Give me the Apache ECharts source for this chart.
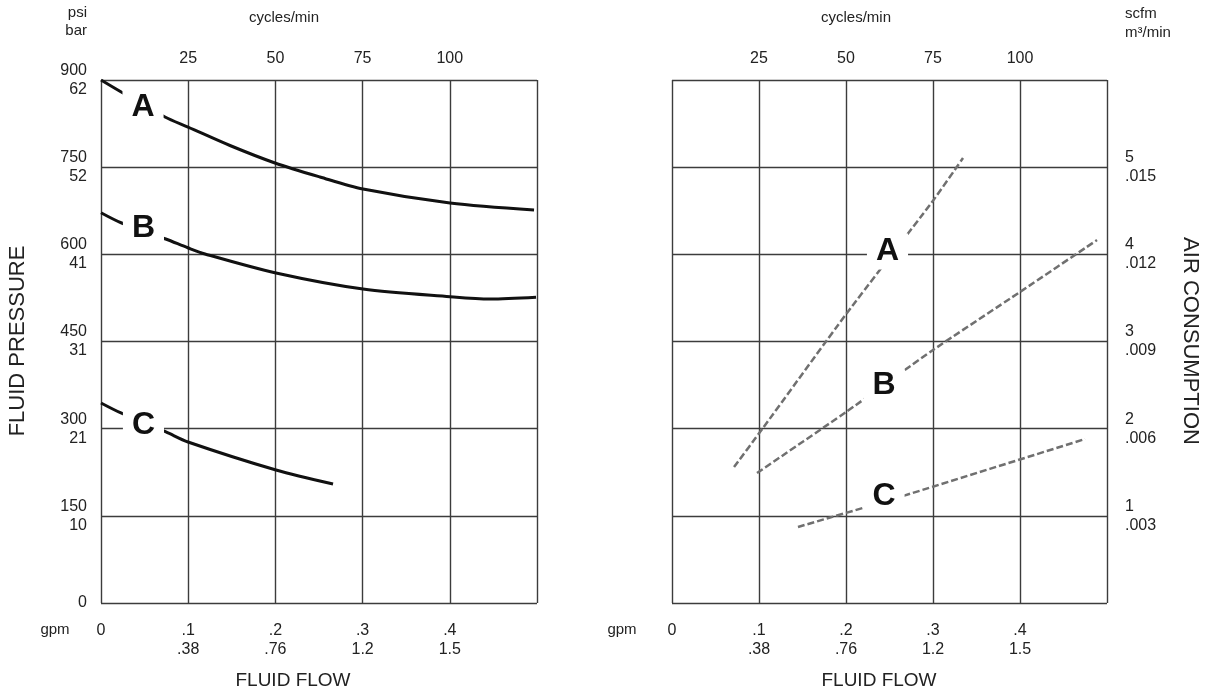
<!DOCTYPE html>
<html>
<head>
<meta charset="utf-8">
<script src="https://cdn.jsdelivr.net/npm/echarts@6/dist/echarts.min.js"></script>
<style>
html,body{margin:0;padding:0;background:#fff;}
#c{width:1207px;height:698px;}
</style>
</head>
<body>
<div id="c"></div>
<script>
// ---- tick labels ----
const flowLabels = ['0', '.1\n.38', '.2\n.76', '.3\n1.2', '.4\n1.5', ''];
const cycleLabels = ['', '25', '50', '75', '100', ''];
const pressureLabels = ['0', '150\n10', '300\n21', '450\n31', '600\n41', '750\n52', '900\n62'];
const airLabels = ['', '1\n.003', '2\n.006', '3\n.009', '4\n.012', '5\n.015', ''];

// ---- left panel: fluid pressure (psi) vs fluid flow (gpm) ----
const pressureA = [[0,900],[0.0252,877.6],[0.0734,836.3],[0.0998,819.1],[0.1479,787.3],[0.1995,757.2],[0.2511,733.1],[0.3005,712.4],[0.4002,688.3],[0.4966,676.3]];
const pressureB = [[0,671.6],[0.0237,653.9],[0.0742,626.4],[0.1001,610.9],[0.1193,600.6],[0.2007,567.9],[0.3005,540.3],[0.4002,527.1],[0.4461,523.1],[0.4989,526.1]];
const pressureC = [[0,344.2],[0.0229,327.0],[0.0745,294.3],[0.0998,277.1],[0.2007,228.9],[0.2661,204.8]];
const pressureTags = [[0.0482,853.5,'A'],[0.0487,644.4,'B'],[0.0487,306.3,'C']];

// ---- right panel: air consumption (scfm) vs fluid flow (gpm) ----
const airA = [[0.0713,1.560],[0.1046,2.008],[0.2011,3.327],[0.2989,4.600],[0.3345,5.105]];
const airB = [[0.0977,1.491],[0.2,2.191],[0.3,2.902],[0.4,3.568],[0.4885,4.164]];
const airC = [[0.1448,0.872],[0.2655,1.228],[0.4747,1.881]];
const airTags = [[0.2477,4.032,'A'],[0.2437,2.501,'B'],[0.2437,1.228,'C']];

const FONT = '"Liberation Sans", Arial, Helvetica, sans-serif';
const TXT = '#222';
const GRIDC = '#3c3c3c';

const chart = echarts.init(document.getElementById('c'), null, {renderer: 'canvas'});

function bottomAxis(gi) {
  return {
    type: 'value', gridIndex: gi, position: 'bottom', min: 0, max: 0.5, interval: 0.1,
    axisLine: {show: false}, axisTick: {show: false},
    splitLine: {show: true, lineStyle: {color: GRIDC, width: 1.4}},
    axisLabel: {margin: 18, fontSize: 16, lineHeight: 19, color: TXT, fontFamily: FONT,
      formatter: v => flowLabels[Math.round(v / 0.1)] || ''}
  };
}
function topAxis(gi) {
  return {
    type: 'value', gridIndex: gi, position: 'top', min: 0, max: 125, interval: 25,
    axisLine: {show: false}, axisTick: {show: false}, splitLine: {show: false},
    axisLabel: {margin: 13, fontSize: 16, color: TXT, fontFamily: FONT,
      formatter: v => cycleLabels[Math.round(v / 25)] || ''}
  };
}
const tagLabel = {
  show: true, position: 'inside', formatter: p => p.data[2],
  fontSize: 32, fontWeight: 'bold', fontFamily: FONT, color: '#111',
  backgroundColor: '#fff', padding: [2, 9], lineHeight: 32, opacity: 1
};

const option = {
  backgroundColor: '#fff',
  animation: false,
  grid: [
    {left: 101, top: 80, width: 436, height: 523},
    {left: 672, top: 80, width: 435, height: 523}
  ],
  xAxis: [bottomAxis(0), topAxis(0), bottomAxis(1), topAxis(1)],
  yAxis: [
    {type: 'value', gridIndex: 0, position: 'left', min: 0, max: 900, interval: 150,
      axisLine: {show: false}, axisTick: {show: false},
      splitLine: {show: true, lineStyle: {color: GRIDC, width: 1.4}},
      axisLabel: {margin: 14, fontSize: 16, lineHeight: 19, color: TXT, fontFamily: FONT,
        formatter: v => pressureLabels[Math.round(v / 150)] || ''}},
    {type: 'value', gridIndex: 1, position: 'right', min: 0, max: 6, interval: 1,
      axisLine: {show: false}, axisTick: {show: false},
      splitLine: {show: true, lineStyle: {color: GRIDC, width: 1.4}},
      axisLabel: {margin: 18, fontSize: 16, lineHeight: 19, color: TXT, fontFamily: FONT, align: 'left',
        formatter: v => airLabels[Math.round(v)] || ''}}
  ],
  series: [
    {type: 'line', xAxisIndex: 0, yAxisIndex: 0, data: pressureA, smooth: 0.3, symbol: 'none',
      lineStyle: {color: '#111', width: 3}},
    {type: 'line', xAxisIndex: 0, yAxisIndex: 0, data: pressureB, smooth: 0.3, symbol: 'none',
      lineStyle: {color: '#111', width: 3}},
    {type: 'line', xAxisIndex: 0, yAxisIndex: 0, data: pressureC, smooth: 0.3, symbol: 'none',
      lineStyle: {color: '#111', width: 3}},
    {type: 'line', xAxisIndex: 2, yAxisIndex: 1, data: airA, smooth: 0.2, symbol: 'none',
      lineStyle: {color: '#707070', width: 2.5, type: [7, 3]}},
    {type: 'line', xAxisIndex: 2, yAxisIndex: 1, data: airB, smooth: 0.2, symbol: 'none',
      lineStyle: {color: '#707070', width: 2.5, type: [7, 3]}},
    {type: 'line', xAxisIndex: 2, yAxisIndex: 1, data: airC, smooth: 0.2, symbol: 'none',
      lineStyle: {color: '#707070', width: 2.5, type: [7, 3]}},
    {type: 'scatter', xAxisIndex: 0, yAxisIndex: 0, data: pressureTags, symbolSize: 1, z: 10,
      itemStyle: {color: 'rgba(255,255,255,0)', opacity: 1}, label: tagLabel, emphasis: {disabled: true}, silent: true},
    {type: 'scatter', xAxisIndex: 2, yAxisIndex: 1, data: airTags, symbolSize: 1, z: 10,
      itemStyle: {color: 'rgba(255,255,255,0)', opacity: 1}, label: tagLabel, emphasis: {disabled: true}, silent: true}
  ],
  graphic: [
    {type: 'text', x: 87, y: 22, style: {text: 'psi\nbar', align: 'right', verticalAlign: 'middle', fontSize: 15, lineHeight: 18, fill: TXT, fontFamily: FONT}},
    {type: 'text', x: 284, y: 18, style: {text: 'cycles/min', align: 'center', verticalAlign: 'middle', fontSize: 15, fill: TXT, fontFamily: FONT}},
    {type: 'text', x: 856, y: 18, style: {text: 'cycles/min', align: 'center', verticalAlign: 'middle', fontSize: 15, fill: TXT, fontFamily: FONT}},
    {type: 'text', x: 1125, y: 23, style: {text: 'scfm\nm³/min', align: 'left', verticalAlign: 'middle', fontSize: 15, lineHeight: 19, fill: TXT, fontFamily: FONT}},
    {type: 'text', x: 55, y: 630, style: {text: 'gpm', align: 'center', verticalAlign: 'middle', fontSize: 15, fill: TXT, fontFamily: FONT}},
    {type: 'text', x: 622, y: 630, style: {text: 'gpm', align: 'center', verticalAlign: 'middle', fontSize: 15, fill: TXT, fontFamily: FONT}},
    {type: 'text', x: 293, y: 681, style: {text: 'FLUID FLOW', align: 'center', verticalAlign: 'middle', fontSize: 19, fill: TXT, fontFamily: FONT}},
    {type: 'text', x: 879, y: 681, style: {text: 'FLUID FLOW', align: 'center', verticalAlign: 'middle', fontSize: 19, fill: TXT, fontFamily: FONT}},
    {type: 'text', x: 18, y: 341, rotation: Math.PI / 2, style: {text: 'FLUID PRESSURE', align: 'center', verticalAlign: 'middle', fontSize: 22, fill: TXT, fontFamily: FONT}},
    {type: 'text', x: 1190, y: 341, rotation: -Math.PI / 2, style: {text: 'AIR CONSUMPTION', align: 'center', verticalAlign: 'middle', fontSize: 22, fill: TXT, fontFamily: FONT}}
  ]
};
chart.setOption(option);
</script>
</body>
</html>
